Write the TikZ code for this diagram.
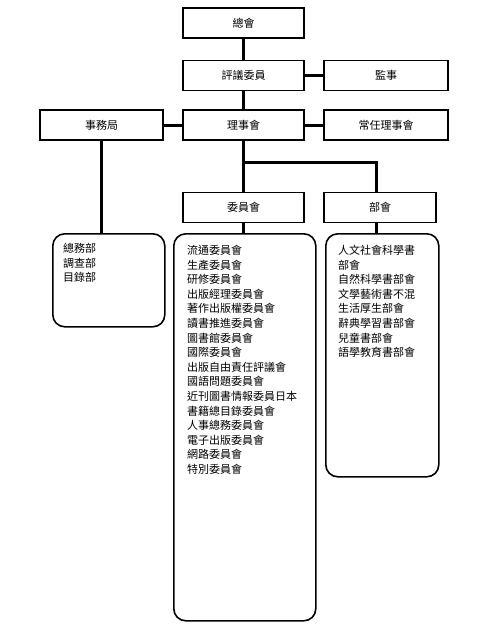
\documentclass[tikz,border=0pt]{standalone}
\usepackage{fontspec}
\setmainfont{Noto Sans CJK TC}
\usetikzlibrary{positioning}
\tikzset{
  orgbox/.style={draw, line width=1.6pt, outer sep=0pt, inner sep=0pt,
    minimum height=30pt, minimum width=121pt, font=\fontsize{11}{13}\selectfont},
  listbox/.style={draw, line width=1.6pt, rounded corners=12pt, anchor=north west},
  listtext/.style={anchor=north west, inner sep=0pt, align=left,
    font=\fontsize{11}{14.6}\selectfont},
  link/.style={line width=3pt},
  thinlink/.style={line width=2.5pt}
}
\begin{document}
\begin{tikzpicture}[x=1pt, y=-1pt, node distance=20pt]
    \useasboundingbox (0,0) rectangle (488,630);
    % top chain
    \node[orgbox] (zonghui) at (243.5,23) {總會};
    \node[orgbox] (pingyi) at (243.5,75.5) {評議委員};
    \node[orgbox, minimum width=124pt, right=of pingyi] (jianshi) {監事};
    \node[orgbox] (lishi) at (243.5,125) {理事會};
    \node[orgbox, minimum width=124pt, right=of lishi] (changren) {常任理事會};
    \node[orgbox, minimum width=123pt, left=of lishi] (shiwu) {事務局};
    \node[orgbox] (weiyuan) at (243.5,207.5) {委員會};
    \node[orgbox, minimum width=112pt, right=of weiyuan] (buhui) {部會};
    \coordinate (fork) at (243.5,162);
    % lists
    \node[listbox, minimum width=112pt, minimum height=93pt] (shiwulist) at (52,233) {};
    \node[listbox, minimum width=142pt, minimum height=387pt] (wylist) at (173,233) {};
    \node[listbox, minimum width=113pt, minimum height=243pt] (bhlist) at (325,233) {};
    \node[listtext] (shiwutext) at ([shift={(11,10)}]shiwulist.north west)
      {總務部\\調查部\\目錄部};
    \node[listtext] (wytext) at ([shift={(14,12)}]wylist.north west)
      {流通委員會\\生產委員會\\研修委員會\\出版經理委員會\\著作出版權委員會\\讀書推進委員會\\
       圖書館委員會\\國際委員會\\出版自由責任評議會\\國語問題委員會\\近刊圖書情報委員日本\\
       書籍總目錄委員會\\人事總務委員會\\電子出版委員會\\網路委員會\\特別委員會};
    \node[listtext] (bhtext) at ([shift={(13,12)}]bhlist.north west)
      {人文社會科學書\\部會\\自然科學書部會\\文學藝術書不混\\生活厚生部會\\辭典學習書部會\\
       兒童書部會\\語學教育書部會};
    % connectors
    \draw[link] (zonghui) -- (pingyi);
    \draw[link] (pingyi) -- (jianshi);
    \draw[link] (pingyi) -- (lishi);
    \draw[link] (lishi) -- (changren);
    \draw[link] (shiwu) -- (lishi);
    \draw[thinlink] (shiwu) -- (shiwu |- shiwulist.north);
    \draw[link] (lishi) -- (weiyuan);
    \draw[link] (fork) -| ([xshift=-4pt]buhui.north);
    \draw[link] ([xshift=-4pt]buhui.south) -- ([xshift=-4pt]buhui.south |- bhlist.north);
    \draw[link] (weiyuan) -- (weiyuan |- wylist.north);
\end{tikzpicture}
\end{document}
